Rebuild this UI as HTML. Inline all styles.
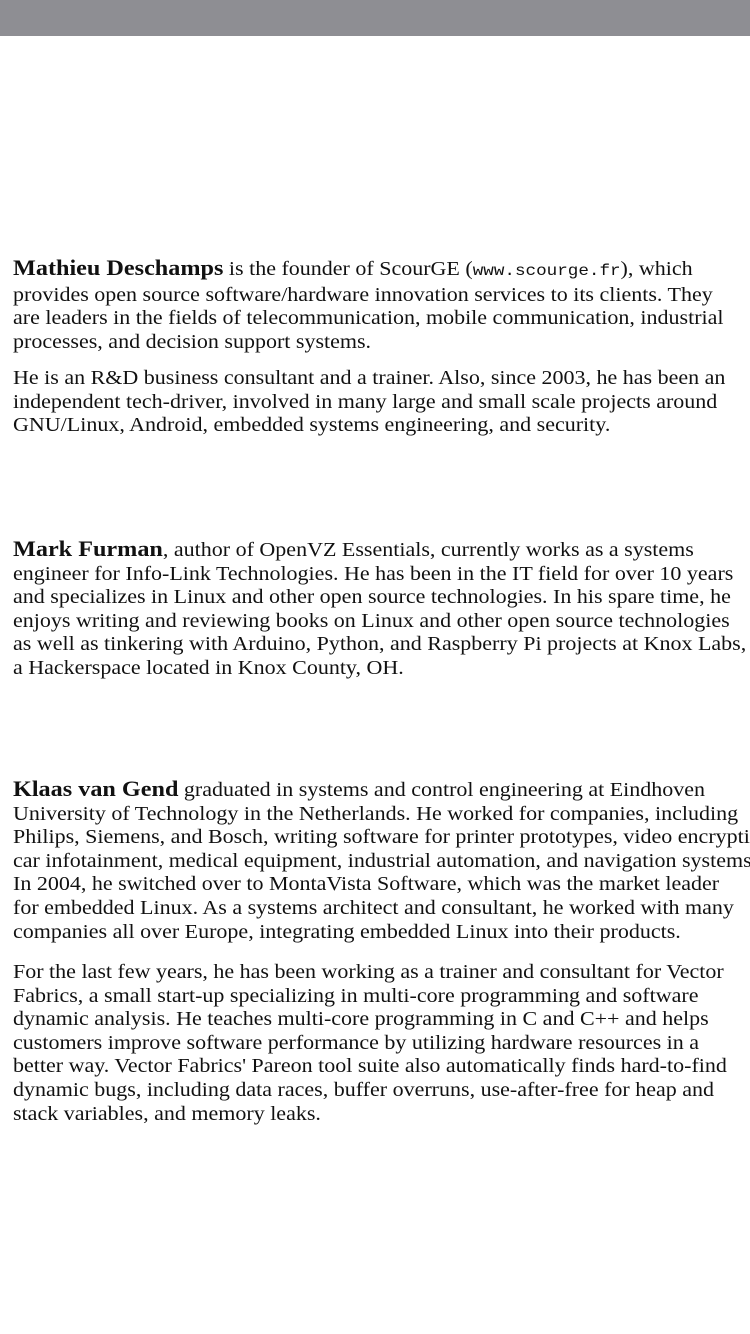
<!DOCTYPE html>
<html><head><meta charset="utf-8">
<style>
html,body{margin:0;padding:0;width:750px;height:1334px;background:#fff;overflow:hidden;position:relative}
.bar{position:absolute;left:0;top:0;width:750px;height:36px;background:#8e8e93}
.p{position:absolute;left:13px;font-family:"Liberation Serif",serif;font-size:20px;line-height:23.6px;color:#111;white-space:nowrap;transform:scaleX(1.1);transform-origin:0 0}
.p b{font-size:22px}
.p code{font-family:"Liberation Mono",monospace;font-size:16px}
</style></head><body>
<div class="bar"></div>
<div class="p" style="top:256px"><b>Mathieu Deschamps</b> is the founder of ScourGE (<code>www.scourge.fr</code>), which<br>provides open source software/hardware innovation services to its clients. They<br>are leaders in the fields of telecommunication, mobile communication, industrial<br>processes, and decision support systems.</div>
<div class="p" style="top:367px">He is an R&amp;D business consultant and a trainer. Also, since 2003, he has been an<br>independent tech-driver, involved in many large and small scale projects around<br>GNU/Linux, Android, embedded systems engineering, and security.</div>
<div class="p" style="top:537px"><b>Mark Furman</b>, author of OpenVZ Essentials, currently works as a systems<br>engineer for Info-Link Technologies. He has been in the IT field for over 10 years<br>and specializes in Linux and other open source technologies. In his spare time, he<br>enjoys writing and reviewing books on Linux and other open source technologies<br>as well as tinkering with Arduino, Python, and Raspberry Pi projects at Knox Labs,<br>a Hackerspace located in Knox County, OH.</div>
<div class="p" style="top:777px"><b>Klaas van Gend</b> graduated in systems and control engineering at Eindhoven<br>University of Technology in the Netherlands. He worked for companies, including<br>Philips, Siemens, and Bosch, writing software for printer prototypes, video encryption,<br>car infotainment, medical equipment, industrial automation, and navigation systems.<br>In 2004, he switched over to MontaVista Software, which was the market leader<br>for embedded Linux. As a systems architect and consultant, he worked with many<br>companies all over Europe, integrating embedded Linux into their products.</div>
<div class="p" style="top:961px">For the last few years, he has been working as a trainer and consultant for Vector<br>Fabrics, a small start-up specializing in multi-core programming and software<br>dynamic analysis. He teaches multi-core programming in C and C++ and helps<br>customers improve software performance by utilizing hardware resources in a<br>better way. Vector Fabrics' Pareon tool suite also automatically finds hard-to-find<br>dynamic bugs, including data races, buffer overruns, use-after-free for heap and<br>stack variables, and memory leaks.</div>
</body></html>
